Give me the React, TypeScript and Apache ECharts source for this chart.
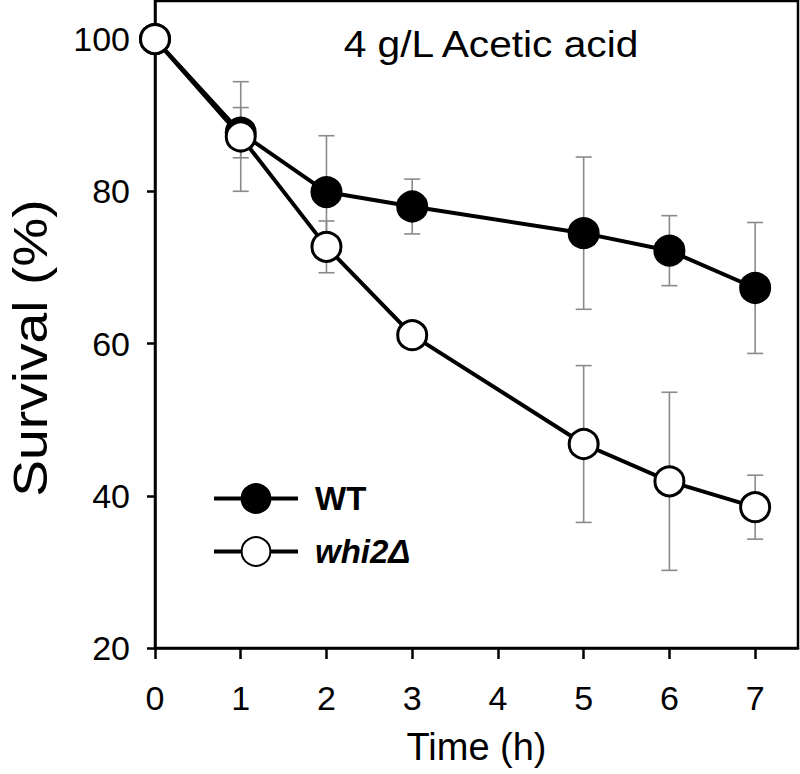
import React, { useEffect, useRef } from "react";
import * as echarts from "echarts";

const times = [0, 1, 2, 3, 5, 6, 7];
const wtValues = [100, 87.7, 79.9, 78.0, 74.5, 72.2, 67.3];
const wtErrors = [0, 3.3, 7.4, 3.6, 10.0, 4.6, 8.6];
const whi2Values = [100, 87.2, 72.7, 61.1, 46.8, 41.9, 38.5];
const whi2Errors = [0, 7.2, 3.4, 0, 10.3, 11.7, 4.2];
const xTicks = [0, 1, 2, 3, 4, 5, 6, 7];
const yTicks = [20, 40, 60, 80, 100];

const FONT = "'Liberation Sans', Arial, Helvetica, sans-serif";

export default function App() {
  const ref = useRef<HTMLDivElement>(null);
  useEffect(() => {
    if (!ref.current) return;
    const chart = echarts.init(ref.current, null, { renderer: "svg" });

    const errData = (vals: number[], errs: number[]) =>
      times
        .map((t, i) => [t, vals[i] - errs[i], vals[i] + errs[i]])
        .filter((_, i) => errs[i] > 0);

    const errorSeries = (name: string, data: number[][]) => ({
      type: "custom",
      name: name + "-err",
      z: 1,
      silent: true,
      data,
      renderItem: (params: any, api: any) => {
        const x = api.value(0);
        const lo = api.coord([x, api.value(1)]);
        const hi = api.coord([x, api.value(2)]);
        const hw = 8;
        const style = { stroke: "#8a8a8a", lineWidth: 1.6 };
        return {
          type: "group",
          children: [
            { type: "line", shape: { x1: lo[0], y1: lo[1], x2: hi[0], y2: hi[1] }, style },
            { type: "line", shape: { x1: lo[0] - hw, y1: lo[1], x2: lo[0] + hw, y2: lo[1] }, style },
            { type: "line", shape: { x1: hi[0] - hw, y1: hi[1], x2: hi[0] + hw, y2: hi[1] }, style },
          ],
        };
      },
    });

    chart.setOption({
      animation: false,
      backgroundColor: "#ffffff",
      textStyle: { fontFamily: FONT },
      grid: {
        left: 155,
        right: 2,
        top: 1,
        bottom: 126,
        show: true,
        borderColor: "#000",
        borderWidth: 2.5,
        containLabel: false,
      },
      xAxis: {
        type: "value",
        min: 0,
        max: 7.5,
        interval: 1,
        name: "Time (h)",
        nameLocation: "middle",
        nameGap: 80,
        nameTextStyle: { fontSize: 38, color: "#000", fontFamily: FONT },
        axisLine: { show: true, lineStyle: { color: "#000", width: 2.5 } },
        axisTick: { show: true, inside: false, length: 11, lineStyle: { color: "#000", width: 2.5 }, customValues: xTicks },
        axisLabel: { fontSize: 34, color: "#000", margin: 33, fontFamily: FONT, customValues: xTicks },
        splitLine: { show: false },
      },
      yAxis: {
        type: "value",
        min: 20,
        max: 105,
        interval: 20,
        axisLine: { show: true, lineStyle: { color: "#000", width: 2.5 } },
        axisTick: { show: true, inside: false, length: 8, lineStyle: { color: "#000", width: 2.5 }, customValues: yTicks },
        axisLabel: { fontSize: 34, color: "#000", margin: 25, fontFamily: FONT, customValues: yTicks },
        splitLine: { show: false },
      },
      legend: {
        left: 207,
        top: 477,
        orient: "vertical",
        itemWidth: 84,
        itemHeight: 36,
        itemGap: 20,
        data: ["WT", "whi2Δ"],
        lineStyle: { width: 4, color: "#000" },
        formatter: (name: string) => (name === "WT" ? "{b|WT}" : "{bi|whi2Δ}"),
        textStyle: {
          color: "#000",
          fontFamily: FONT,
          padding: [0, 0, 0, 12],
          rich: {
            b: { fontSize: 33, fontWeight: "bold", color: "#000", fontFamily: FONT },
            bi: { fontSize: 33, fontWeight: "bold", fontStyle: "italic", color: "#000", fontFamily: FONT },
          },
        },
      },
      graphic: [
        {
          type: "text",
          x: 491,
          y: 44,
          scaleX: 1.1,
          style: {
            text: "4 g/L Acetic acid",
            x: 0,
            y: 0,
            textAlign: "center",
            textVerticalAlign: "middle",
            fontSize: 37,
            fontFamily: FONT,
            fill: "#000",
          },
        },
        {
          type: "text",
          x: 30,
          y: 348,
          rotation: Math.PI / 2,
          scaleX: 1.15,
          style: {
            text: "Survival (%)",
            x: 0,
            y: 0,
            textAlign: "center",
            textVerticalAlign: "middle",
            fontSize: 48,
            fontFamily: FONT,
            fill: "#000",
          },
        },
      ],
      series: [
        errorSeries("WT", errData(wtValues, wtErrors)),
        errorSeries("whi2Δ", errData(whi2Values, whi2Errors)),
        {
          type: "line",
          name: "WT",
          z: 3,
          data: times.map((t, i) => [t, wtValues[i]]),
          symbol: "circle",
          symbolSize: 29,
          lineStyle: { color: "#000", width: 4 },
          itemStyle: { color: "#000", borderColor: "#000", borderWidth: 3 },
        },
        {
          type: "line",
          name: "whi2Δ",
          z: 4,
          data: times.map((t, i) => [t, whi2Values[i]]),
          symbol: "circle",
          symbolSize: 29,
          lineStyle: { color: "#000", width: 4 },
          itemStyle: { color: "#fff", borderColor: "#000", borderWidth: 3 },
        },
      ],
    });
    return () => chart.dispose();
  }, []);
  return (
    <div
      ref={ref}
      style={{ position: "fixed", left: 0, top: 0, width: 800, height: 774, background: "#fff" }}
    />
  );
}
